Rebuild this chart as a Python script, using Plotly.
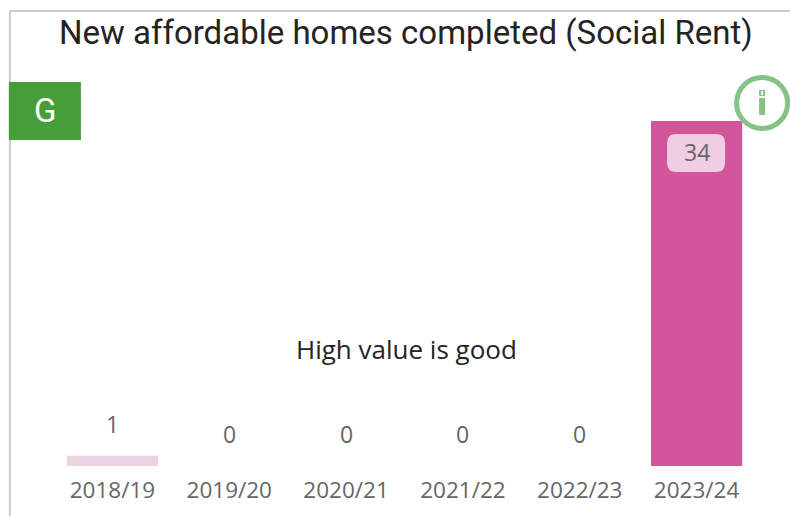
import plotly.graph_objects as go

years = ["2018/19", "2019/20", "2020/21", "2021/22", "2022/23", "2023/24"]
homes = [1, 0, 0, 0, 0, 34]
bar_colors = ["#EBD3E2", "#EBD3E2", "#EBD3E2", "#EBD3E2", "#EBD3E2", "#D2549B"]
title_text = "New affordable homes completed (Social Rent)"
note_text = "High value is good"
rating = "G"

W, H = 790, 516
L, R, T, B = 54.1, 754.9, 121, 466


def px(x):
    return (x - L) / (R - L)


def py(y):
    return (B - y) / (B - T)


def rrect(x0, y0, x1, y1, r):
    return (
        f"M {px(x0 + r)} {py(y0)} L {px(x1 - r)} {py(y0)} "
        f"Q {px(x1)} {py(y0)} {px(x1)} {py(y0 + r)} L {px(x1)} {py(y1 - r)} "
        f"Q {px(x1)} {py(y1)} {px(x1 - r)} {py(y1)} L {px(x0 + r)} {py(y1)} "
        f"Q {px(x0)} {py(y1)} {px(x0)} {py(y1 - r)} L {px(x0)} {py(y0 + r)} "
        f"Q {px(x0)} {py(y0)} {px(x0 + r)} {py(y0)} Z"
    )


def paper_rect(x0, y0, x1, y1, color, layer="above"):
    return dict(type="rect", xref="paper", yref="paper", x0=px(x0), x1=px(x1),
                y0=py(y1), y1=py(y0), fillcolor=color, line_width=0, layer=layer)


GREY = "#666666"
BODY = "Open Sans"
HEAD = "Roboto"

fig = go.Figure(go.Bar(x=years, y=homes, marker_color=bar_colors, marker_line_width=0,
                       width=0.78, hoverinfo="skip"))

annotations = []
for yr, v in zip(years, homes):
    inside = v == max(homes)
    annotations.append(dict(x=yr, y=v, xref="x", yref="y", text=str(v), showarrow=False,
                            xanchor="center", yanchor="middle",
                            yshift=-31 if inside else 32,
                            font=dict(family=BODY, size=23, color=GREY)))
annotations += [
    dict(x=px(406), y=py(32), xref="paper", yref="paper", text=title_text, showarrow=False,
         xanchor="center", yanchor="middle",
         font=dict(family=HEAD, size=33, color="#252423")),
    dict(x=px(406), y=py(349), xref="paper", yref="paper", text=note_text, showarrow=False,
         xanchor="center", yanchor="middle",
         font=dict(family=BODY, size=26, color="#252423")),
    dict(x=px(45), y=py(110), xref="paper", yref="paper", text=rating, showarrow=False,
         xanchor="center", yanchor="middle",
         font=dict(family=HEAD, size=33, color="#FFFFFF")),
]

shapes = [
    dict(type="line", xref="paper", yref="paper", x0=px(10), x1=px(790), y0=py(11), y1=py(11),
         line=dict(color="#CCCCCC", width=2), layer="below"),
    dict(type="line", xref="paper", yref="paper", x0=px(10), x1=px(10), y0=py(11), y1=py(516),
         line=dict(color="#CCCCCC", width=2), layer="below"),
    paper_rect(9, 82, 81, 140, "#459E37"),
    dict(type="path", xref="paper", yref="paper", path=rrect(667, 134, 725, 172, 9),
         fillcolor="#F2CCE2", line_width=0, layer="above"),
    dict(type="circle", xref="paper", yref="paper", x0=px(736.5), x1=px(787.5),
         y0=py(128.5), y1=py(77.5), fillcolor="#FFFFFF",
         line=dict(color="#85C285", width=5), layer="above"),
    paper_rect(759, 98, 765, 115, "#85C285"),
    paper_rect(759, 90, 765, 96, "#85C285"),
    paper_rect(761, 91, 763, 95, "#FFFFFF"),
]

fig.update_layout(
    width=W, height=H, autosize=False,
    margin=dict(l=L, r=W - R, t=T, b=H - B, pad=0),
    paper_bgcolor="#FFFFFF", plot_bgcolor="#FFFFFF",
    showlegend=False, annotations=annotations, shapes=shapes,
    xaxis=dict(type="category", showgrid=False, zeroline=False, showline=False, ticks="",
               tickfont=dict(family=BODY, size=22.5, color=GREY), ticklabelstandoff=8),
    yaxis=dict(range=[0, max(homes)], visible=False, fixedrange=True),
)
fig.write_html("out.html", config=dict(displayModeBar=False),
               post_script="document.body.style.margin='0';")
